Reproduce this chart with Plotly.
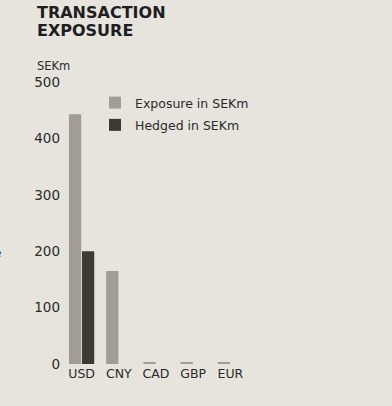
import plotly.graph_objects as go

categories = ["USD", "CNY", "CAD", "GBP", "EUR"]
exposure = [443, 165, 2, 2, 2]
hedged = [200, None, None, None, None]
y_ticks = [0, 100, 200, 300, 400, 500]

W, H = 392, 406
L, R, T, B = 63, 143, 82, 42

def px(x):
    return (x - L) / (W - L - R)

def py(y):
    return (H - B - y) / (H - T - B)

fig = go.Figure()
fig.add_trace(go.Bar(x=categories, y=exposure, name="Exposure in SEKm", legendgroup="a",
                     marker=dict(color="#a19d96", line=dict(width=0))))
fig.add_trace(go.Bar(x=categories, y=hedged, name="Hedged in SEKm", legendgroup="b",
                     marker=dict(color="#3d3b31", line=dict(width=0))))

title_font = dict(size=16, color="#1e1e1e", family="DejaVu Sans")
fig.update_layout(
    width=W, height=H,
    margin=dict(l=L, r=R, t=T, b=B),
    paper_bgcolor="#e6e4dd", plot_bgcolor="#e6e4dd",
    barmode="group", bargap=0.3, bargroupgap=0.06,
    font=dict(family="DejaVu Sans", color="#2b2b2b"),
    legend=dict(x=px(95), y=py(88), xanchor="left", yanchor="top",
                bgcolor="rgba(0,0,0,0)", font=dict(size=12.5, color="#2b2b2b"),
                itemwidth=30, traceorder="grouped", tracegroupgap=3),
    showlegend=True,
    xaxis=dict(showgrid=False, showline=False, zeroline=False, ticks="",
               tickfont=dict(size=12.5, color="#2b2b2b")),
    yaxis=dict(range=[0, 500], tickvals=y_ticks, showgrid=False, showline=False,
               zeroline=False, ticks="", tickfont=dict(size=13.5, color="#2b2b2b"),
               ticklabelstandoff=2),
    annotations=[
        dict(text="<b>TRANSACTION</b>", x=px(35), y=py(13), xref="paper", yref="paper",
             xanchor="left", yanchor="middle", showarrow=False, font=title_font),
        dict(text="<b>EXPOSURE</b>", x=px(35), y=py(31), xref="paper", yref="paper",
             xanchor="left", yanchor="middle", showarrow=False, font=title_font),
        dict(text="SEKm", x=px(35), y=py(66), xref="paper", yref="paper",
             xanchor="left", yanchor="middle", showarrow=False,
             font=dict(size=11.5, color="#2b2b2b")),
        dict(text="e", x=px(3), y=py(253), xref="paper", yref="paper",
             xanchor="right", yanchor="middle", showarrow=False,
             font=dict(size=12, color="#2b2b2b")),
    ],
)

fig.write_html("out.html", config={"displayModeBar": False},
               post_script="document.body.style.margin='0';document.body.style.overflow='hidden';")
